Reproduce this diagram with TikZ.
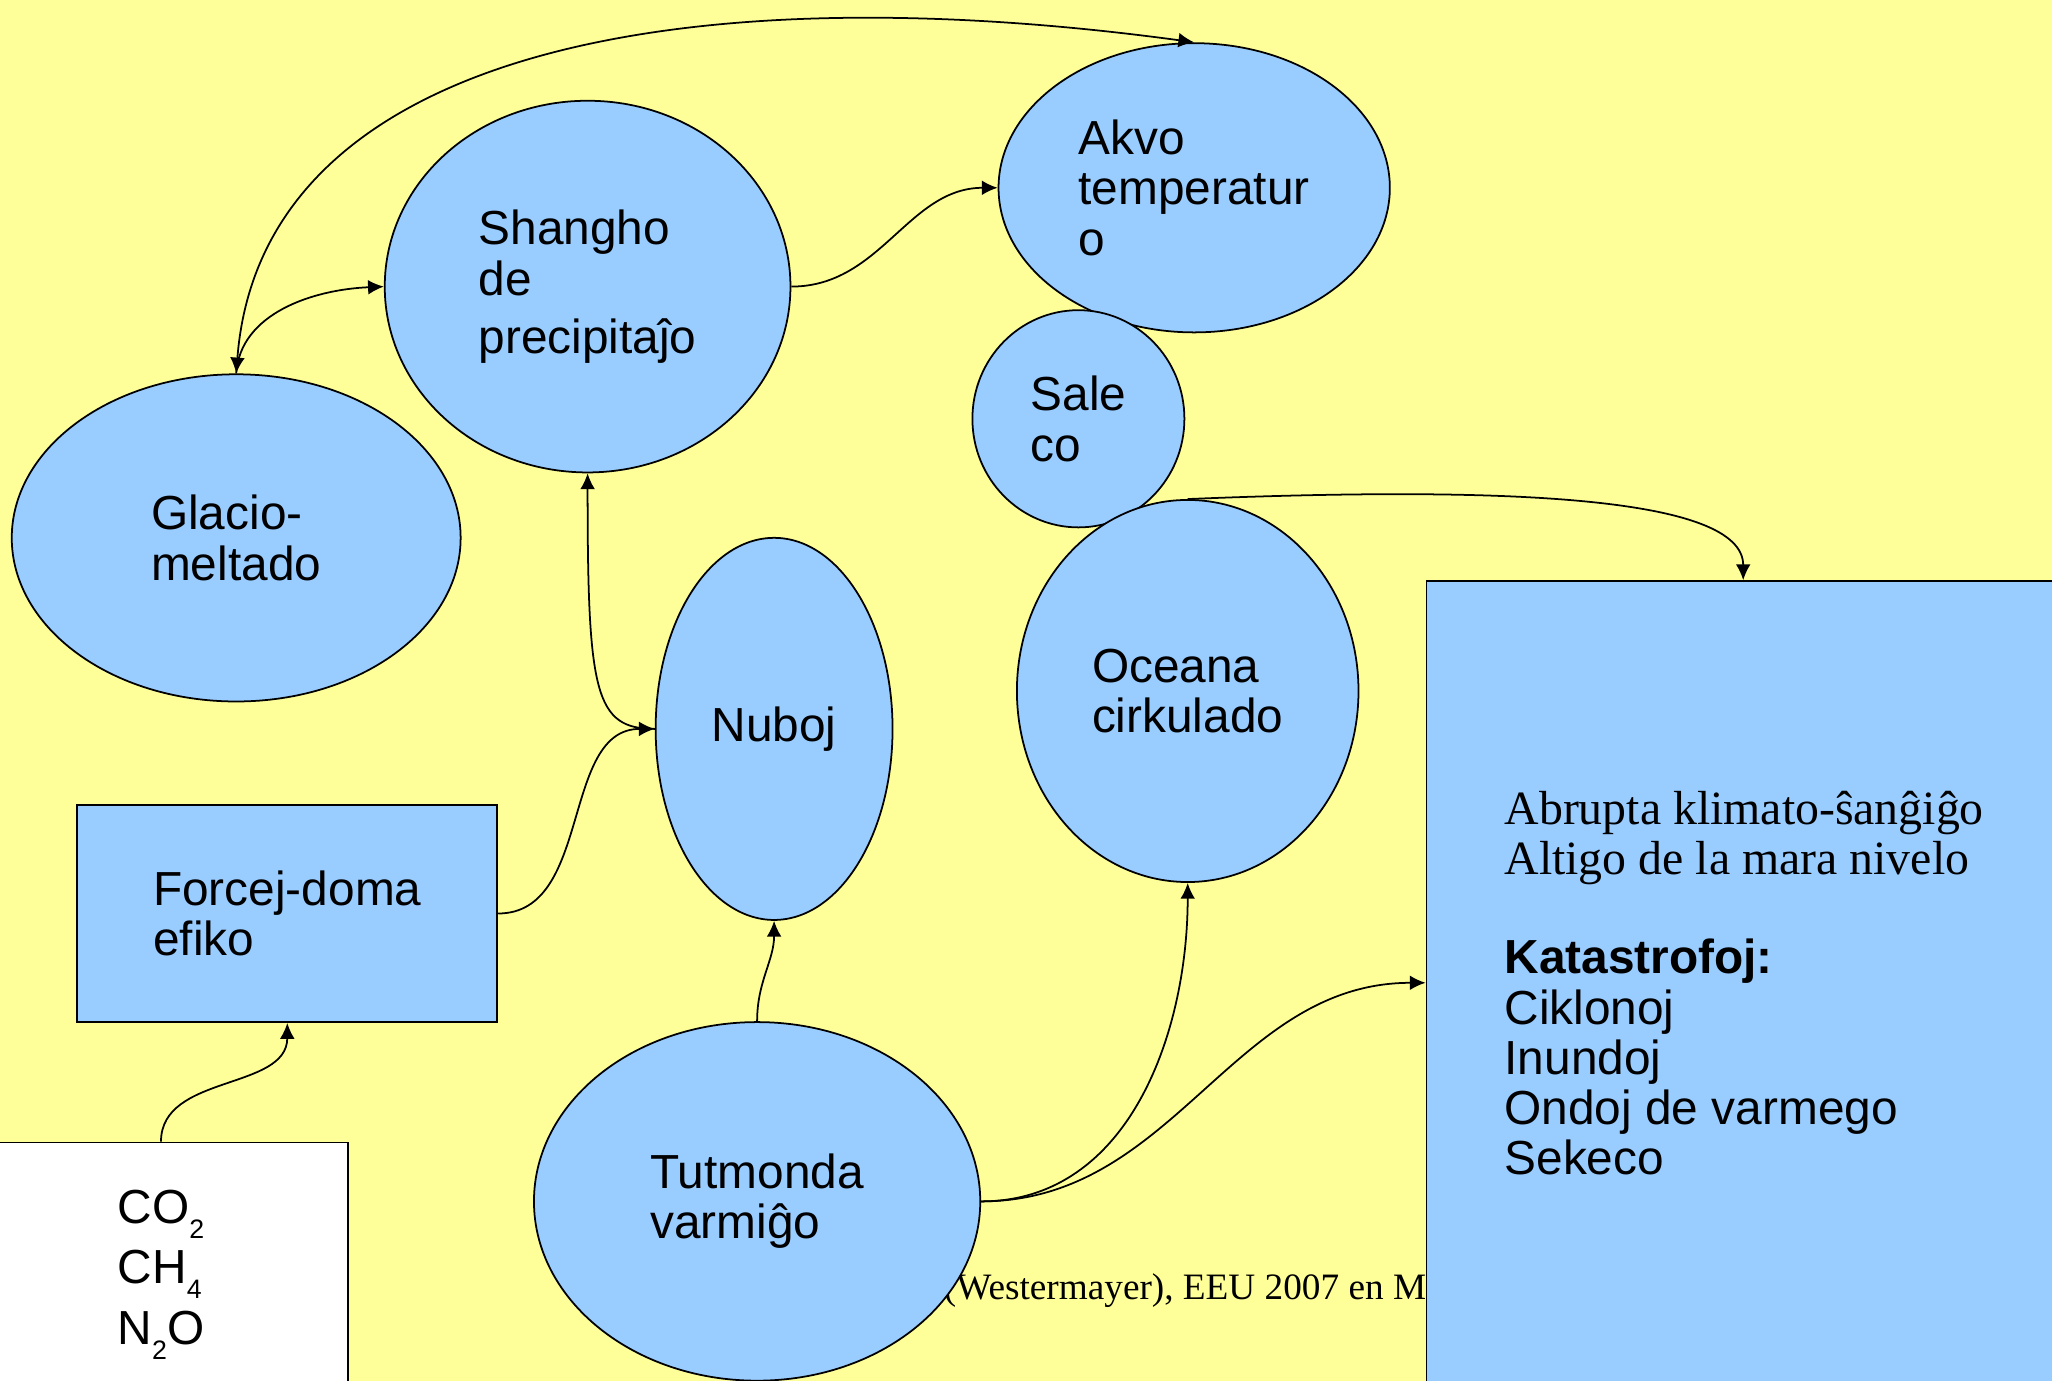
\documentclass[tikz,border=0pt]{standalone}
\usepackage{fontspec}
\setmainfont{Liberation Serif}
\setsansfont{Liberation Sans}
\usetikzlibrary{positioning, arrows.meta, shapes.geometric}
\definecolor{slideyellow}{HTML}{FFFF99}
\definecolor{bubbleblue}{HTML}{99CCFF}
\newcommand{\lowsub}[1]{\raisebox{-4.3pt}{\fontsize{7.6}{8}\selectfont #1}}
\tikzset{
  bubble/.style={ellipse, draw, fill=bubbleblue, line width=0.5pt, inner sep=0pt, align=left,
    font=\sffamily\fontsize{13.6}{14.3}\selectfont},
  panel/.style={rectangle, draw, fill=bubbleblue, line width=0.5pt, inner sep=0pt, align=left,
    font=\sffamily\fontsize{13.6}{14.3}\selectfont},
}

\begin{document}
\begin{tikzpicture}[>={Latex[length=4.5pt,width=4.2pt]}, line width=0.5pt]
    % slide background
    \clip (0,0) rectangle (20.52,-13.81);
    \fill[slideyellow] (0,0) rectangle (20.52,-13.81);

    % source note, mostly hidden behind the shapes
    \node[anchor=base east, inner sep=0pt, font=\rmfamily\fontsize{10.6}{12}\selectfont] (fonto) at (14.27,-12.995) {(Westermayer), EEU 2007 en M};

    % bubbles
    \node[bubble, minimum width=3.913cm, minimum height=2.892cm] (akvo) at (11.942,-1.878) {Akvo\\temperatur\\o};
    \node[bubble, minimum width=4.057cm, minimum height=3.717cm] (shangho) at (5.876,-2.866) {Shangho\\de\\[2.2pt]precipitaĵo};
    \node[bubble, minimum width=4.489cm, minimum height=3.272cm] (glacio) at (2.362,-5.379) {Glacio-\\meltado};
    \node[bubble, minimum width=2.120cm, minimum height=2.172cm] (saleco) at (10.784,-4.188) {Sale\\co};
    \node[bubble, minimum width=3.416cm, minimum height=3.821cm] (oceana) at (11.877,-6.910) {Oceana\\cirkulado};
    \node[bubble, minimum width=2.369cm, minimum height=3.821cm] (nuboj) at (7.741,-7.289) {Nuboj};
    \node[bubble, minimum width=4.463cm, minimum height=3.586cm] (tutmonda) at (7.571,-12.014) {Tutmonda\\varmiĝo};

    % boxes
    \node[panel, minimum width=4.201cm, minimum height=2.172cm] (forcej) at (2.873,-9.135) {Forcej-doma\\efiko};
    \node[panel, fill=white, align=left, minimum width=3.743cm, minimum height=2.644cm] (co2) at (1.610,-12.747)
        {CO\lowsub{2}\\[3pt]CH\lowsub{4}\\[3pt]N\lowsub{2}O};
    \node[panel, minimum width=6.334cm, minimum height=8.035cm] (box) at (17.432,-9.828) {};
    \node[anchor=north west, inner sep=0pt, align=left, font=\sffamily\fontsize{13.6}{14.3}\selectfont] (efikoj) at (15.037,-7.90)
        {{\rmfamily Abrupta klimato-ŝanĝiĝo}\\{\rmfamily Altigo de la mara nivelo}\\[14pt]
         \textbf{Katastrofoj:}\\Ciklonoj\\Inundoj\\Ondoj de varmego\\Sekeco};

    % connectors
    \draw[<->] (glacio.north) .. controls +(0.25,3.25) and +(-5.07,0.69) .. (akvo.north);
    \draw[->] (glacio.north) .. controls +(0.04,0.6) and +(-0.71,-0.03) .. (shangho.west);
    \draw[->] (shangho.east) to[out=0, in=180] (akvo.west);
    \draw[->] (nuboj.west) .. controls +(-0.6,0) and +(0,-2.2) .. (shangho.south);
    \draw[->] (forcej.east) to[out=0, in=180] (nuboj.west);
    \draw[->] (tutmonda.north) to[out=90, in=-90] (nuboj.south);
    \draw[->] (co2.north) to[out=90, in=-90] (forcej.south);
    \draw[->] (tutmonda.east) to[out=0, in=-90] (oceana.south);
    \draw[->] (tutmonda.east) to[out=0, in=180] (box.west);
    \draw[->] (oceana.north) .. controls +(3.18,0.13) and +(0,0.84) .. (box.north);
\end{tikzpicture}
\end{document}
